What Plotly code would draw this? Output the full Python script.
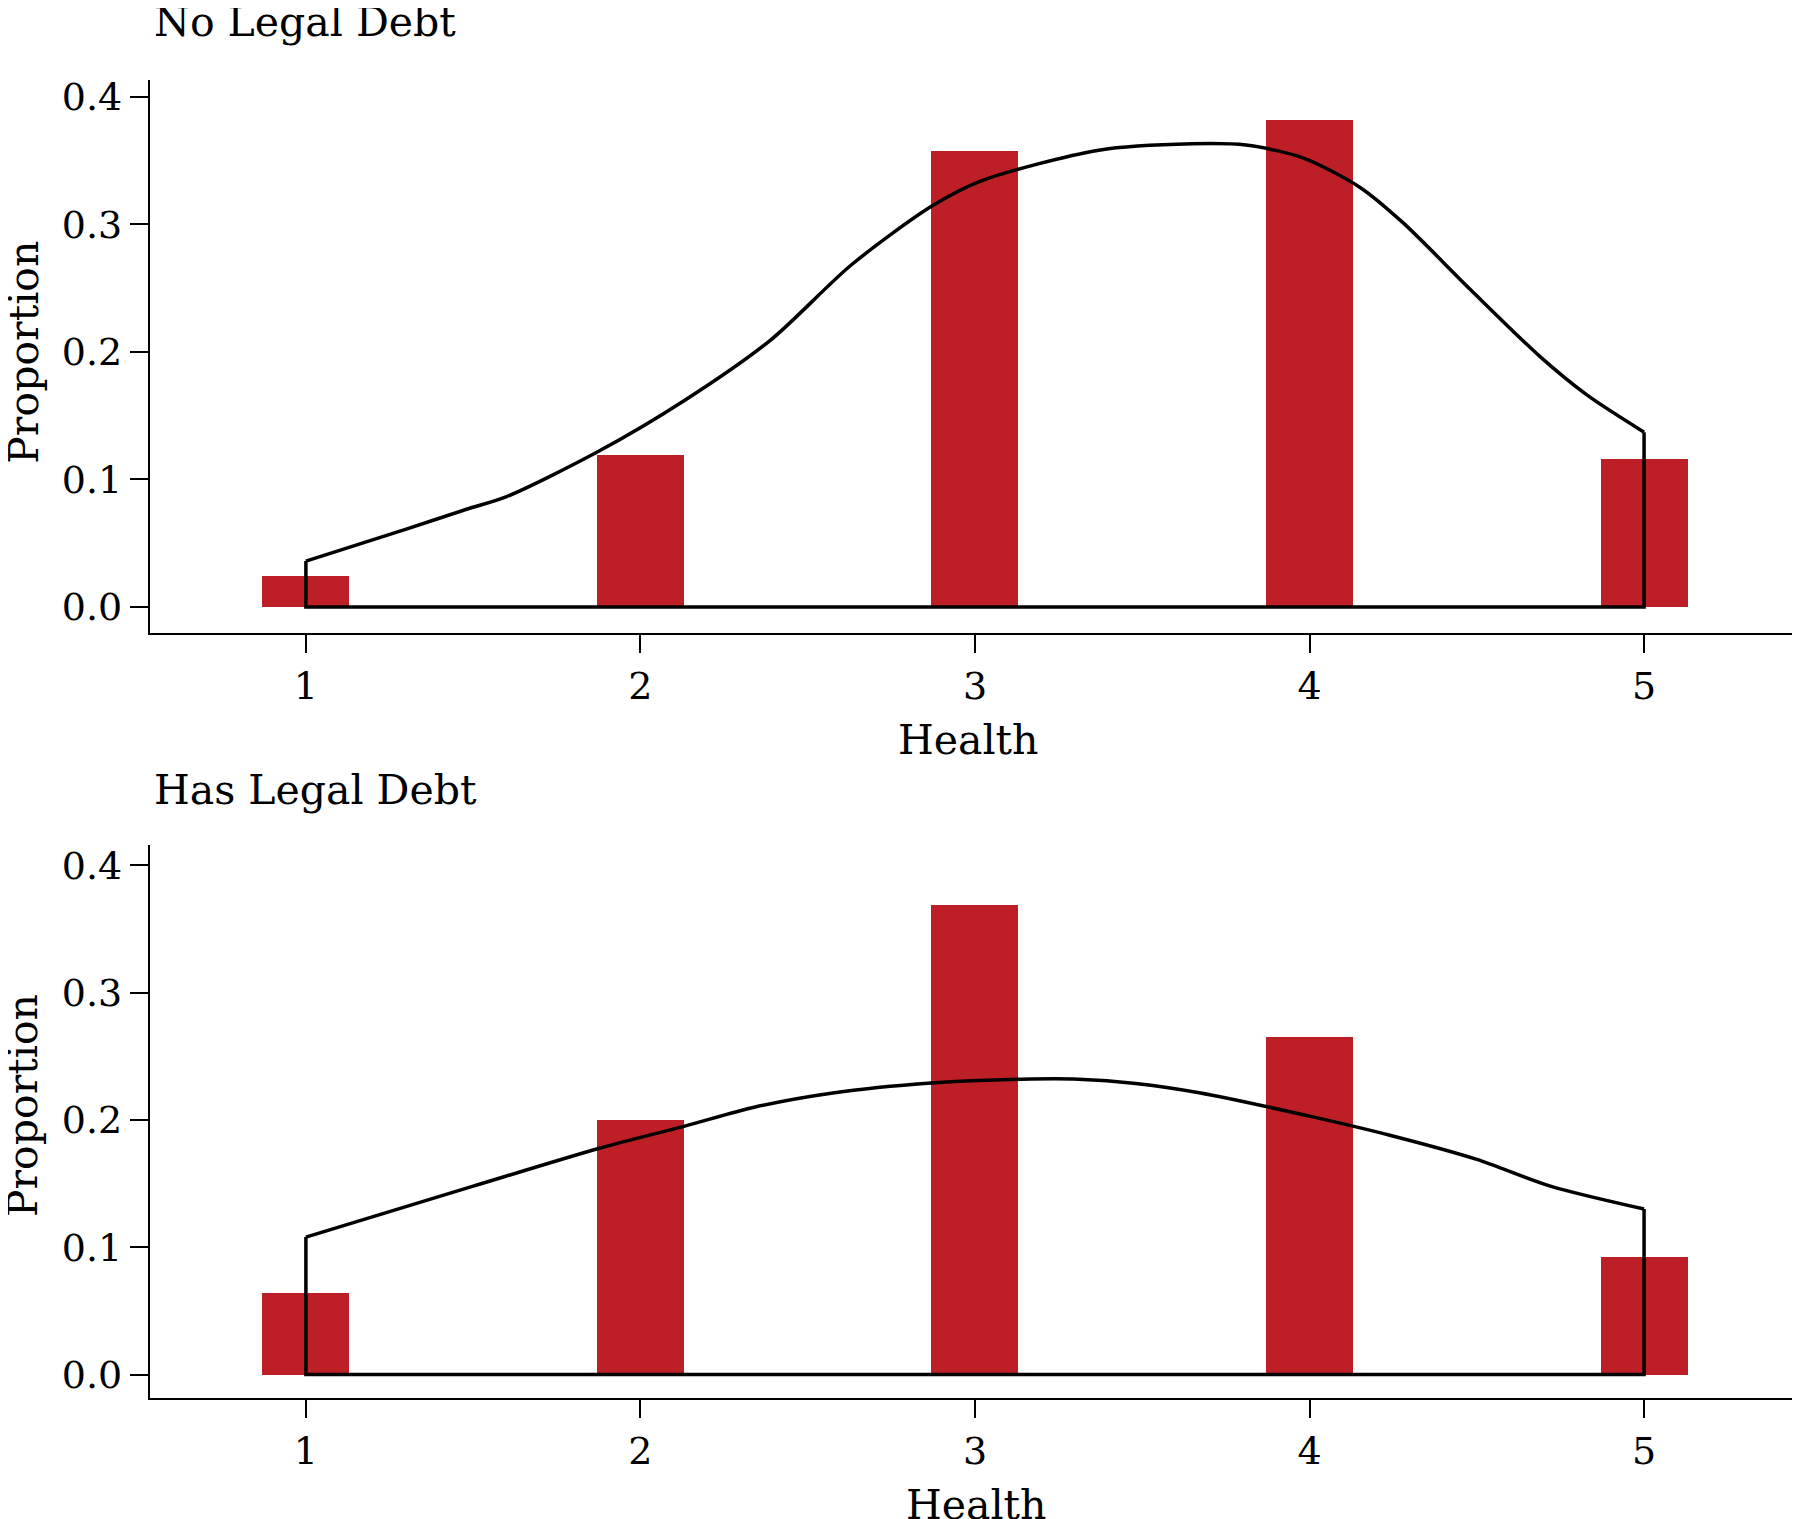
import plotly.graph_objects as go

# health rating categories
health_levels = [1, 2, 3, 4, 5]

# proportion of respondents in each health rating
no_debt_share = [0.024, 0.119, 0.357, 0.382, 0.116]
has_debt_share = [0.064, 0.200, 0.369, 0.265, 0.092]

# kernel density curve
no_debt_kde_x = [1.0, 1.3, 1.48, 1.6, 1.875, 2.135, 2.39, 2.63, 2.87, 3.015,
                 3.37, 3.65, 3.81, 3.98, 4.15, 4.28, 4.48, 4.69, 4.83, 5.0]
no_debt_kde_y = [0.036, 0.061, 0.0766, 0.0865, 0.122, 0.1624, 0.2094, 0.268, 0.314, 0.3336,
                 0.358, 0.363, 0.362, 0.352, 0.329, 0.301, 0.249, 0.196, 0.166, 0.137]

has_debt_kde_x = [1.0, 1.5, 1.88, 2.13, 2.34, 2.57, 2.87, 3.14, 3.31, 3.48,
                  3.67, 4.0, 4.24, 4.5, 4.72, 5.0]
has_debt_kde_y = [0.108, 0.148, 0.178, 0.195, 0.210, 0.221, 0.229, 0.232, 0.232, 0.2287,
                  0.2214, 0.203, 0.188, 0.169, 0.148, 0.130]

y_ticks = [0.0, 0.1, 0.2, 0.3, 0.4]

RED = "#BE1F27"
FONT = "DejaVu Serif"


def frame(xs, ys):
    # the density outline drops to zero at both ends and runs along the baseline
    return [xs[0], xs[0], xs[-1], xs[-1]], [ys[0], 0, 0, ys[-1]]


fig = go.Figure()

panels = [
    (no_debt_share, no_debt_kde_x, no_debt_kde_y, "x", "y"),
    (has_debt_share, has_debt_kde_x, has_debt_kde_y, "x2", "y2"),
]

for share, kx, ky, xa, ya in panels:
    fig.add_trace(go.Bar(
        x=health_levels, y=share, width=0.26,
        marker=dict(color=RED, line=dict(width=0)),
        xaxis=xa, yaxis=ya, showlegend=False,
    ))
    fx, fy = frame(kx, ky)
    fig.add_trace(go.Scatter(
        x=fx, y=fy, mode="lines",
        line=dict(color="black", width=3.5),
        xaxis=xa, yaxis=ya, showlegend=False,
    ))
    fig.add_trace(go.Scatter(
        x=kx, y=ky, mode="lines",
        line=dict(color="black", width=3.5, shape="spline", smoothing=0.8),
        xaxis=xa, yaxis=ya, showlegend=False,
    ))

xaxis_style = dict(
    range=[0.534, 5.49], tickvals=health_levels,
    showline=True, linecolor="black", linewidth=2.3,
    ticks="outside", ticklen=18, tickwidth=2.3, tickcolor="black",
    showgrid=False, zeroline=False,
    tickfont=dict(family=FONT, size=38, color="black"),
)
yaxis_style = dict(
    tickvals=y_ticks, tickformat=".1f",
    showline=True, linecolor="black", linewidth=2.3,
    ticks="outside", ticklen=18, tickwidth=2.3, tickcolor="black",
    showgrid=False, zeroline=False,
    tickfont=dict(family=FONT, size=38, color="black"),
)

fig.update_layout(
    width=1800, height=1519,
    margin=dict(l=142, r=0, t=72, b=129),
    paper_bgcolor="white", plot_bgcolor="white",
    bargap=0,
    xaxis=dict(xaxis_style, domain=[0, 1], anchor="y"),
    yaxis=dict(yaxis_style, domain=[0.5804, 1.0], range=[-0.0204, 0.413], anchor="x"),
    xaxis2=dict(xaxis_style, domain=[0, 1], anchor="y2"),
    yaxis2=dict(yaxis_style, domain=[0, 0.4196], range=[-0.0184, 0.416], anchor="x2"),
)

text_font = dict(family=FONT, size=41, color="black")
notes = [
    ("No Legal Debt", 0.001, 1.044, 0, "left"),
    ("Has Legal Debt", 0.001, 0.4613, 0, "left"),
    ("Proportion", -0.0765, 0.7932, -90, "center"),
    ("Proportion", -0.0765, 0.2216, -90, "center"),
    ("Health", 0.4934, 0.499, 0, "center"),
    ("Health", 0.498, -0.0812, 0, "center"),
]
for text, x, y, angle, anchor in notes:
    fig.add_annotation(
        text=text, x=x, y=y, xref="paper", yref="paper",
        xanchor=anchor, yanchor="middle", textangle=angle,
        showarrow=False, font=text_font,
    )

fig.write_html("out.html")
